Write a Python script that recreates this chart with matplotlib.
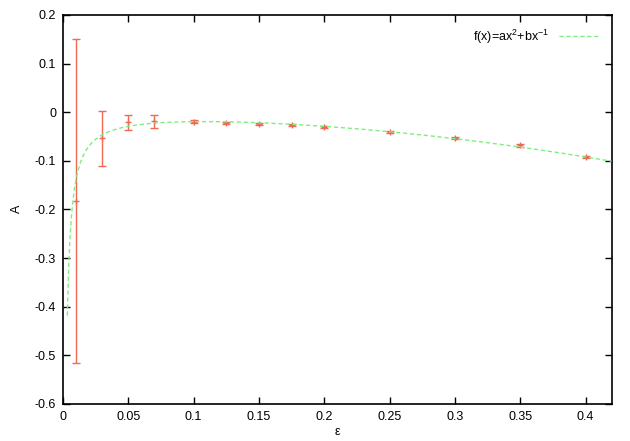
import numpy as np
import matplotlib
matplotlib.use("Agg")
import matplotlib.pyplot as plt

plt.rcParams['font.family'] = ['Liberation Sans', 'DejaVu Sans']
plt.rcParams['mathtext.fontset'] = 'custom'
plt.rcParams['mathtext.rm'] = 'Liberation Sans'
plt.rcParams['mathtext.it'] = 'Liberation Sans'

# data
eps = [0.01, 0.03, 0.05, 0.07, 0.1, 0.125, 0.15, 0.175, 0.2, 0.25, 0.3, 0.35, 0.4]
A = [-0.182, -0.054, -0.021, -0.019, -0.0195, -0.023, -0.025, -0.027, -0.031, -0.040, -0.053, -0.068, -0.092]
A_err = [0.333, 0.056, 0.016, 0.013, 0.003, 0.002, 0.002, 0.002, 0.002, 0.002, 0.002, 0.003, 0.003]

# fitted parameters of f(x)=a x^2 + b / x
fit_a = -0.553
fit_b = -0.00138
fit_xmin = 0.0033
fit_xmax = 0.42

xticks = [0, 0.05, 0.1, 0.15, 0.2, 0.25, 0.3, 0.35, 0.4]
yticks = [-0.6, -0.5, -0.4, -0.3, -0.2, -0.1, 0, 0.1, 0.2]

W, H = 630, 441
fig = plt.figure(figsize=(6.3, 4.41), dpi=100)
ax = fig.add_axes([0.1, 0.084, 0.871, 0.882])

ax.errorbar(eps, A, yerr=A_err, fmt='+', color='#ef6a55', ecolor='#ef6a55',
            elinewidth=1.0, capsize=3, capthick=1.0, markersize=5, mew=1.0,
            zorder=2)

xf = np.linspace(fit_xmin, fit_xmax, 400)
yf = fit_a * xf**2 + fit_b / xf
ax.plot(xf, yf, linestyle=(0, (3, 2)), color='#7fee7f', linewidth=1.0,
        label=r'f(x)=ax$^2$+bx$^{-1}$', zorder=3)

ax.set_xlim(0, 0.42)
ax.set_ylim(-0.6, 0.2)
ax.set_xticks(xticks)
ax.set_xticklabels([f'{t:g}' for t in xticks])
ax.set_yticks(yticks)
ax.set_yticklabels([f'{t:g}' for t in yticks])
ax.tick_params(direction='in', top=True, right=True, length=5, width=1,
               labelsize=9, pad=5)
for s in ax.spines.values():
    s.set_linewidth(1.2)

fig.text(337 / W, 1 - 432 / H, 'ε', fontsize=9, ha='center', va='center')
fig.text(17 / W, 1 - 209 / H, 'A', fontsize=9, ha='center', va='center',
         rotation=90)

leg = ax.legend(loc='upper right', frameon=False, markerfirst=False,
                fontsize=9, handlelength=3.2, borderaxespad=0.6)

fig.savefig('out.png', dpi=100)
